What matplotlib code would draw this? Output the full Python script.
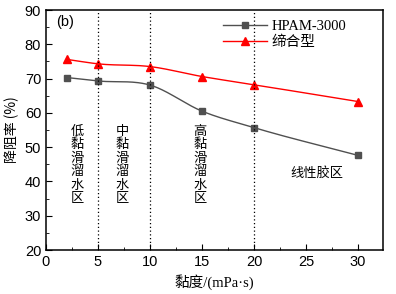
import matplotlib
matplotlib.use("Agg")
import matplotlib.pyplot as plt
import numpy as np
from matplotlib.ticker import MultipleLocator

plt.rcParams["font.family"] = ["Liberation Sans", "Noto Sans CJK SC"]

viscosity = [2, 5, 10, 15, 20, 30]
hpam = [70.3, 69.3, 68.1, 60.5, 55.7, 47.6]
assoc = [75.6, 74.3, 73.5, 70.6, 68.2, 63.3]
series_names = ["HPAM-3000", "缔合型"]
zone_bounds = [5, 10, 20]
zone_labels = ["低\n黏\n滑\n溜\n水\n区", "中\n黏\n滑\n溜\n水\n区", "高\n黏\n滑\n溜\n水\n区"]
zone_label_x = [3, 7.3, 14.8]
linear_label = "线性胶区"


def smooth(x, y, n=40):
    # cubic Hermite curve through the measured points
    x = np.asarray(x, float)
    y = np.asarray(y, float)
    m = np.gradient(y, x)
    xs, ys = [], []
    for i in range(len(x) - 1):
        h = x[i + 1] - x[i]
        t = np.linspace(0, 1, n)
        h00 = 2 * t ** 3 - 3 * t ** 2 + 1
        h10 = t ** 3 - 2 * t ** 2 + t
        h01 = -2 * t ** 3 + 3 * t ** 2
        h11 = t ** 3 - t ** 2
        xs.append(x[i] + t * h)
        ys.append(h00 * y[i] + h10 * h * m[i] + h01 * y[i + 1] + h11 * h * m[i + 1])
    return np.concatenate(xs), np.concatenate(ys)


fig = plt.figure(figsize=(3.96, 2.94), dpi=100)
ax = fig.add_axes([46 / 396, 44 / 294, 337 / 396, 240 / 294])

sx, sy = smooth(viscosity, hpam)
ax.plot(sx, sy, color="#505050", lw=1)
ax.plot(viscosity, hpam, ls="none", marker="s", ms=4.5, color="#505050")
sx, sy = smooth(viscosity, assoc)
ax.plot(sx, sy, color="red", lw=1)
ax.plot(viscosity, assoc, ls="none", marker="^", ms=5.5, color="red")

# legend handles
ax.plot([], [], color="#505050", lw=1, marker="s", ms=4.5, label=series_names[0])
ax.plot([], [], color="red", lw=1, marker="^", ms=5.5, label=series_names[1])
leg = ax.legend(loc="upper left", bbox_to_anchor=(0.50, 0.995), frameon=False,
                handlelength=3.0, handletextpad=0.3, labelspacing=0.15,
                borderaxespad=0.2,
                prop={"family": ["Liberation Serif", "Noto Sans CJK SC"], "size": 10.5})

for b in zone_bounds:
    ax.axvline(b, color="black", ls=(0, (1, 2)), lw=0.9)

for xl, lab in zip(zone_label_x, zone_labels):
    ax.text(xl, 56.6, lab, ha="center", va="top", fontsize=9.5, linespacing=1.05,
            family=["Noto Sans CJK SC"])
ax.text(26, 42.5, linear_label, ha="center", va="center", fontsize=9.5,
        family=["Noto Sans CJK SC"])
ax.text(1.0, 86.5, "(b)", ha="left", va="center", fontsize=10.5)

ax.set_xlim(0, 32.4)
ax.set_ylim(20, 90)
ax.xaxis.set_major_locator(MultipleLocator(5))
ax.xaxis.set_minor_locator(MultipleLocator(2.5))
ax.yaxis.set_major_locator(MultipleLocator(10))
ax.yaxis.set_minor_locator(MultipleLocator(5))
ax.tick_params(which="both", direction="in", top=False, right=False, labelsize=10.5)
ax.tick_params(which="major", length=4)
ax.tick_params(which="minor", length=2.5)
for s in ax.spines.values():
    s.set_linewidth(1.1)

ax.set_xlabel("黏度/(mPa·s)", fontsize=10.5, family=["Liberation Serif", "Noto Sans CJK SC"],
              labelpad=4)
ax.set_ylabel("降阻率 (%)", fontsize=10, family=["Noto Sans CJK SC"], labelpad=4)

fig.savefig("out.png", dpi=100)
